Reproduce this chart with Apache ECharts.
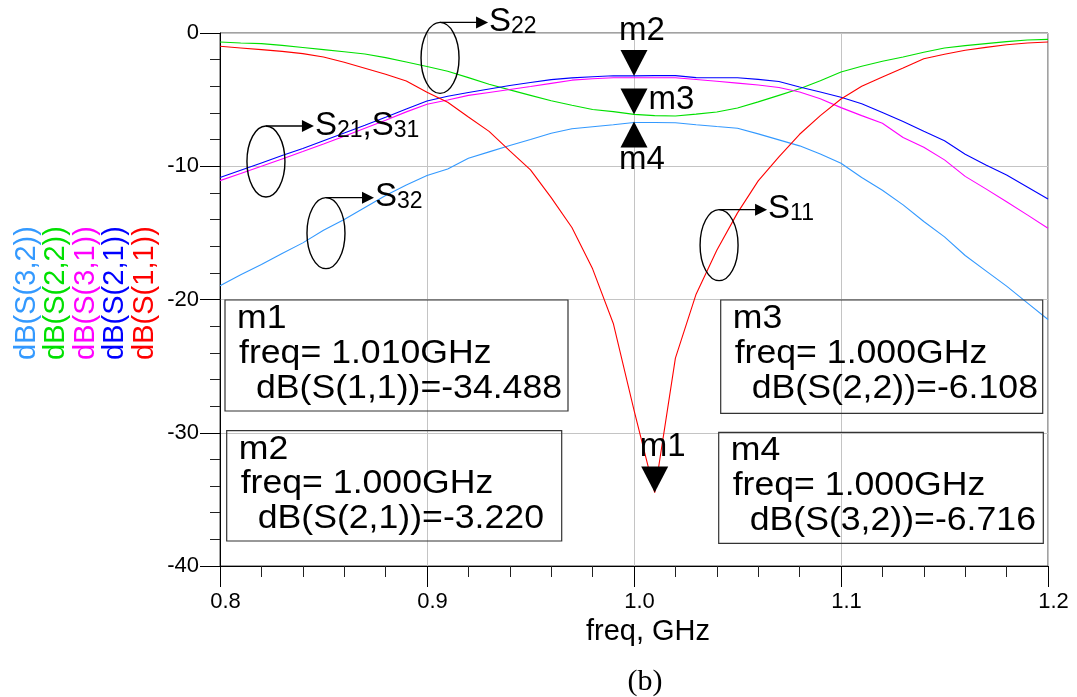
<!DOCTYPE html>
<html><head><meta charset="utf-8">
<script src="https://cdn.jsdelivr.net/npm/echarts@6/dist/echarts.min.js"></script>
<style>html,body{margin:0;padding:0;background:#fff}#c{width:1077px;height:697px}</style>
</head><body><div id="c"></div>
<script>
// ---- data ----
const freqGHz = [0.80,0.81,0.82,0.83,0.84,0.85,0.86,0.87,0.88,0.89,0.90,0.91,0.92,0.93,0.94,0.95,0.96,0.97,0.98,0.99,1.00,1.01,1.02,1.03,1.04,1.05,1.06,1.07,1.08,1.09,1.10,1.11,1.12,1.13,1.14,1.15,1.16,1.17,1.18,1.19,1.20];
const dB_S11 = [-1.00,-1.12,-1.25,-1.38,-1.55,-1.80,-2.20,-2.65,-3.10,-3.60,-4.45,-5.20,-6.30,-7.38,-8.85,-10.27,-12.35,-14.60,-17.70,-21.80,-28.30,-34.488,-24.40,-19.60,-16.30,-13.50,-11.10,-9.30,-7.60,-6.20,-4.95,-4.00,-3.30,-2.63,-1.93,-1.60,-1.30,-1.08,-0.88,-0.75,-0.67];
const dB_S21 = [-10.84,-10.30,-9.75,-9.20,-8.66,-8.08,-7.50,-6.92,-6.32,-5.70,-5.10,-4.75,-4.46,-4.20,-3.94,-3.72,-3.50,-3.37,-3.28,-3.21,-3.22,-3.20,-3.20,-3.35,-3.36,-3.36,-3.48,-3.64,-4.05,-4.43,-4.82,-5.31,-5.97,-6.65,-7.37,-8.08,-9.10,-9.90,-10.66,-11.55,-12.46];
const dB_S31 = [-11.08,-10.55,-10.00,-9.45,-8.90,-8.33,-7.75,-7.15,-6.55,-5.92,-5.35,-5.03,-4.68,-4.46,-4.24,-4.02,-3.78,-3.54,-3.43,-3.36,-3.36,-3.36,-3.36,-3.49,-3.62,-3.76,-3.90,-4.09,-4.43,-4.93,-5.60,-6.20,-6.77,-7.84,-8.57,-9.52,-10.76,-11.70,-12.67,-13.65,-14.65];
const dB_S22 = [-0.67,-0.75,-0.80,-0.93,-1.09,-1.25,-1.41,-1.58,-1.85,-2.18,-2.52,-2.87,-3.35,-3.85,-4.27,-4.68,-5.09,-5.42,-5.74,-5.90,-6.108,-6.20,-6.23,-6.09,-5.93,-5.63,-5.17,-4.68,-4.19,-3.59,-2.93,-2.50,-2.12,-1.80,-1.45,-1.12,-0.95,-0.80,-0.65,-0.52,-0.48];
const dB_S32 = [-18.96,-18.15,-17.37,-16.55,-15.75,-14.80,-14.00,-13.10,-12.20,-11.40,-10.70,-10.20,-9.40,-8.92,-8.45,-7.99,-7.52,-7.18,-7.03,-6.88,-6.716,-6.72,-6.73,-6.88,-7.02,-7.15,-7.57,-8.02,-8.47,-9.08,-9.77,-10.85,-11.80,-12.90,-14.15,-15.30,-16.70,-17.85,-19.00,-20.25,-21.50];
const xTickLabels = ['0.8','0.9','1.0','1.1','1.2'];
const yTickLabels = ['0','-10','-20','-30','-40'];
const seriesNames = ['dB(S(3,2))','dB(S(2,2))','dB(S(3,1))','dB(S(2,1))','dB(S(1,1))'];
const markerNames = ['m1','m2','m3','m4'];
const markerFreq = [1.010,1.000,1.000,1.000];
const markerDb = [-34.488,-3.220,-6.108,-6.716];
const markerParam = ['dB(S(1,1))','dB(S(2,1))','dB(S(2,2))','dB(S(3,2))'];
const calloutText = ['S22','S21,S31','S32','S11'];
const calloutFreq = [0.9063,0.8222,0.8512,1.0411];
const calloutDb = [-1.87,-9.64,-15.02,-15.92];

// ---- styles ----
const FONT = 'Liberation Sans, Arial, sans-serif';
const colors = {'dB(S(3,2))':'#3399ff','dB(S(2,2))':'#00e000','dB(S(3,1))':'#ff00ff','dB(S(2,1))':'#0000ff','dB(S(1,1))':'#ff0000'};
const seriesData = {'dB(S(3,2))':dB_S32,'dB(S(2,2))':dB_S22,'dB(S(3,1))':dB_S31,'dB(S(2,1))':dB_S21,'dB(S(1,1))':dB_S11};
const DOWN = 'path://M0,0L20,0L10,20Z';
const UP = 'path://M10,0L20,20L0,20Z';
const markerStyle = [
  {symbol:DOWN, off:[0,-13], pos:'top', dist:3, loff:[8,0]},
  {symbol:DOWN, off:[0,-13], pos:'top', dist:3, loff:[8,0]},
  {symbol:DOWN, off:[0,-13], pos:'right', dist:1, loff:[0,-1]},
  {symbol:UP, off:[0,12], pos:'bottom', dist:0, loff:[8,-4]}
];
function markPointFor(param){
  const data = [];
  markerParam.forEach((p,i)=>{
    if(p!==param) return;
    const st = markerStyle[i];
    data.push({
      name: markerNames[i], coord:[markerFreq[i], markerDb[i]],
      symbol: st.symbol, symbolSize:[27,26], symbolOffset: st.off,
      itemStyle:{color:'#000'},
      label:{show:true, formatter: markerNames[i], position: st.pos, distance: st.dist, offset: st.loff,
             color:'#000', fontSize:33, fontFamily:FONT}
    });
  });
  return data.length ? {silent:true, animation:false, z:20, data} : undefined;
}

const series = seriesNames.map(n => ({
  name:n, type:'line', symbol:'none', silent:true,
  data: freqGHz.map((f,i)=>[f, seriesData[n][i]]),
  lineStyle:{color:colors[n], width:1.1},
  itemStyle:{color:colors[n]},
  markPoint: markPointFor(n),
  z: 3
}));

const option = {
  animation:false,
  backgroundColor:'#fff',
  grid:{left:220, right:29, top:33, bottom:131, show:true, borderColor:'#444', borderWidth:1, outerBoundsMode:'none', containLabel:false},
  xAxis:{
    type:'value', min:0.8, max:1.2, interval:0.1,
    axisLine:{show:true, onZero:false, lineStyle:{color:'#000', width:1}},
    axisTick:{show:true, length:21, lineStyle:{color:'#000'}},
    minorTick:{show:true, splitNumber:5, length:11, lineStyle:{color:'#222'}},
    splitLine:{show:true, lineStyle:{color:'#c4c4c4', width:1}},
    axisLabel:{color:'#000', fontSize:22, fontFamily:FONT, margin:25, padding:[0,0,0,11],
      formatter:(v)=>{const i=Math.round((v-0.8)/0.1); return xTickLabels[i]!==undefined?xTickLabels[i]:'';}},
    name:'freq, GHz', nameLocation:'middle', nameGap:44,
    nameTextStyle:{color:'#000', fontSize:29, fontFamily:FONT, padding:[0,0,0,28]}
  },
  yAxis:{
    type:'value', min:-40, max:0, interval:10,
    axisLine:{show:true, onZero:false, lineStyle:{color:'#000', width:1}},
    axisTick:{show:true, length:20, lineStyle:{color:'#000'}},
    minorTick:{show:true, splitNumber:5, length:10, lineStyle:{color:'#222'}},
    splitLine:{show:true, lineStyle:{color:'#c4c4c4', width:1}},
    axisLabel:{color:'#000', fontSize:22, fontFamily:FONT, margin:21,
      formatter:(v)=>{const i=Math.round(-v/10); return yTickLabels[i]!==undefined?yTickLabels[i]:'';}}
  },
  series
};

const chart = echarts.init(document.getElementById('c'), null, {renderer:'canvas'});
chart.setOption(option);

// ---- annotations ----
const g = [];
// vertical colored legend at left
const legendX = [26.5, 56, 85.5, 115, 144.5];
seriesNames.forEach((n,i)=>{
  g.push({type:'text', x:legendX[i], y:293, rotation:Math.PI/2, silent:true,
    style:{text:n, fill:colors[n], font:'29px '+FONT, textAlign:'center', textVerticalAlign:'middle'}});
});
// callouts: ellipse + arrow + label with subscripts
calloutText.forEach((t,i)=>{
  const [cx, cy] = chart.convertToPixel({gridIndex:0}, [calloutFreq[i], calloutDb[i]]);
  const rx = 19, ry = 35.5, top = cy - ry;
  g.push({type:'ellipse', silent:true, shape:{cx, cy, rx, ry}, style:{fill:null, stroke:'#000', lineWidth:1.4}, z:10});
  g.push({type:'line', silent:true, shape:{x1:cx, y1:top, x2:cx+38, y2:top}, style:{stroke:'#000', lineWidth:1.4}, z:10});
  g.push({type:'polygon', silent:true, shape:{points:[[cx+36,top-6],[cx+48,top],[cx+36,top+6]]}, style:{fill:'#000'}, z:10});
  const parts = t.split(',').map(p => '{s|'+p[0]+'}{b|'+p.slice(1)+'}');
  g.push({type:'text', silent:true, x:cx+49, y:top-1, z:10,
    style:{text: parts.join('{s|,}'), textVerticalAlign:'middle', textAlign:'left',
      rich:{ s:{fontSize:33, fontFamily:FONT, fill:'#000', lineHeight:34, verticalAlign:'bottom'},
             b:{fontSize:23, fontFamily:FONT, fill:'#000', lineHeight:18, verticalAlign:'bottom'} }}});
});
// marker readout boxes
const boxes = [
  {x:225, y:300, w:343, h:111},
  {x:226.7, y:430.7, w:335, h:110.3},
  {x:720.7, y:300, w:322, h:113.3},
  {x:718.7, y:432.3, w:324.6, h:111}
];
markerNames.forEach((m,i)=>{
  const b = boxes[i];
  g.push({type:'rect', silent:true, shape:{x:b.x, y:b.y, width:b.w, height:b.h}, style:{fill:null, stroke:'#333', lineWidth:1.2}, z:9});
  const lines = [
    {t:m, dx:12, dy:19},
    {t:'freq= ' + markerFreq[i].toFixed(3) + 'GHz', dx:14, dy:53.5},
    {t:markerParam[i] + '=' + markerDb[i].toFixed(3), dx:31, dy:88.5}
  ];
  lines.forEach(L=>{
    g.push({type:'text', silent:true, x:b.x+L.dx, y:b.y+L.dy, scaleX:1.08, z:9,
      style:{text:L.t, font:'33px '+FONT, fill:'#000', textAlign:'left', textVerticalAlign:'middle'}});
  });
});
// caption
g.push({type:'text', silent:true, x:645, y:682, style:{text:'(b)', font:'30px Liberation Serif, Times New Roman, serif', fill:'#000', textAlign:'center', textVerticalAlign:'middle'}});

chart.setOption({graphic:{elements:g}});
</script>
</body></html>
